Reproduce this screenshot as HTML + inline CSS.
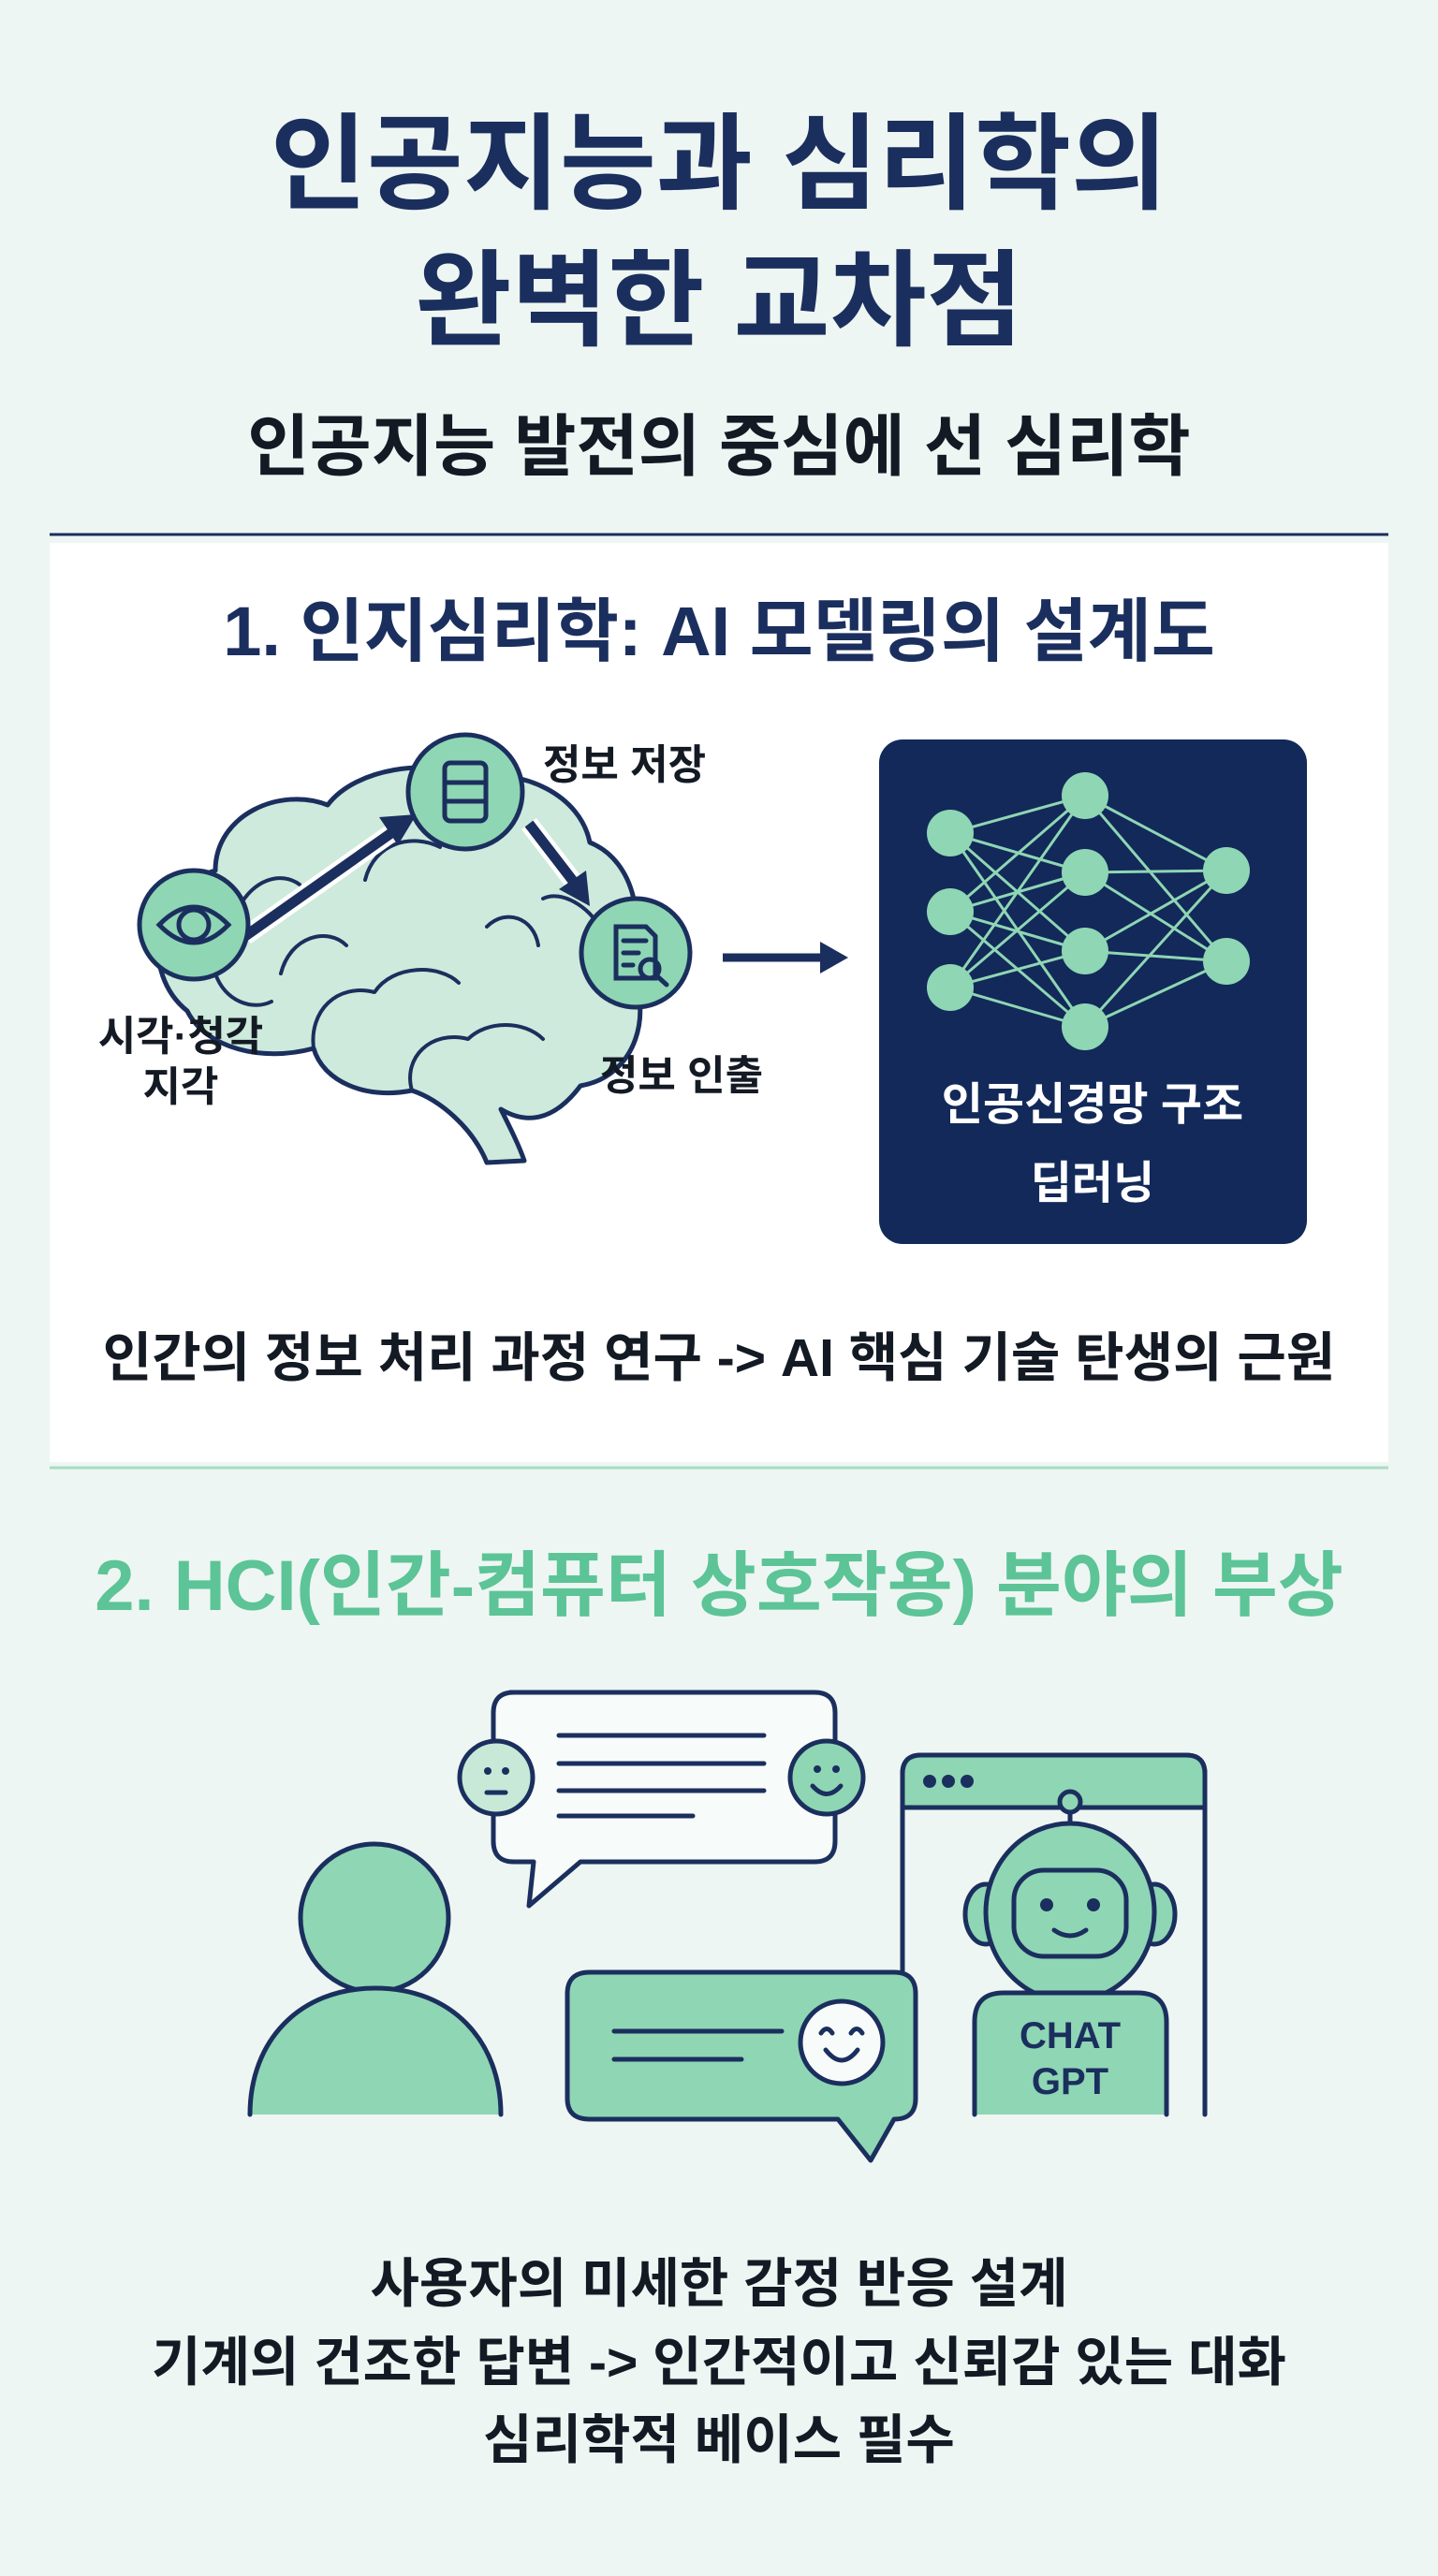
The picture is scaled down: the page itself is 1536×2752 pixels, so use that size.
<!DOCTYPE html>
<html><head><meta charset="utf-8"><style>
html,body{margin:0;padding:0;background:#eef6f3}
svg{display:block}
text{font-family:"Liberation Sans","Noto Sans CJK KR",sans-serif;font-weight:bold}
</style></head><body>
<svg width="1536" height="2752" viewBox="0 0 1536 2752" xmlns="http://www.w3.org/2000/svg">
<rect width="1536" height="2752" fill="#eef6f3"/>
<text x="768" y="214" font-size="112" fill="#1b2f5e" text-anchor="middle">인공지능과 심리학의</text>
<text x="768" y="360" font-size="112" fill="#1b2f5e" text-anchor="middle">완벽한 교차점</text>
<text x="768" y="502" font-size="72" fill="#141a24" text-anchor="middle">인공지능 발전의 중심에 선 심리학</text>
<line x1="53" y1="571" x2="1483" y2="571" stroke="#1b2f5e" stroke-width="3"/>
<rect x="53" y="580" width="1430" height="982" fill="#ffffff"/>
<text x="768" y="700" font-size="74" fill="#1b2f5e" text-anchor="middle">1. 인지심리학: AI 모델링의 설계도</text>

<!-- brain -->
<g stroke="#1b2f5e" stroke-width="5" fill="#cdeadc" stroke-linejoin="round" stroke-linecap="round">
<path d="M200,1080 C150,1040 160,950 230,930 C230,870 300,840 350,860 C380,820 460,810 500,830 C560,820 620,850 630,900 C680,920 690,990 670,1030 C700,1080 680,1150 620,1160 C590,1200 560,1200 535,1185 C545,1205 555,1225 560,1240 L520,1242 C505,1205 470,1175 440,1165 C390,1175 345,1155 335,1120 C280,1135 220,1120 200,1080 Z"/>
<g fill="none" stroke-width="4">
<path d="M255,970 C270,940 300,930 320,945"/>
<path d="M300,1040 C310,1000 350,990 370,1010"/>
<path d="M390,940 C400,900 440,890 470,905"/>
<path d="M335,1120 C330,1080 360,1050 400,1060 C420,1030 470,1030 490,1050"/>
<path d="M440,1165 C430,1130 460,1100 500,1110 C520,1090 560,1090 580,1110"/>
<path d="M580,960 C600,950 630,970 640,990"/>
<path d="M520,990 C540,970 570,980 575,1010"/>
<path d="M230,1040 C240,1070 270,1080 290,1070"/>
</g>
</g>
<!-- arrows -->
<g stroke-linecap="butt">
<line x1="262" y1="1000" x2="425" y2="885" stroke="#fff" stroke-width="20"/>
<line x1="262" y1="1000" x2="425" y2="885" stroke="#1b2f5e" stroke-width="11"/>
<polygon points="445,870 405,873 425,903" fill="#1b2f5e"/>
<line x1="565" y1="880" x2="615" y2="945" stroke="#fff" stroke-width="20"/>
<line x1="565" y1="880" x2="615" y2="945" stroke="#1b2f5e" stroke-width="11"/>
<polygon points="630,968 597,950 626,930" fill="#1b2f5e"/>
<line x1="772" y1="1023" x2="880" y2="1023" stroke="#1b2f5e" stroke-width="9"/>
<polygon points="906,1023 876,1006 876,1040" fill="#1b2f5e"/>
</g>
<!-- circles -->
<g stroke="#1b2f5e" stroke-width="5" fill="#8fd6b4">
<circle cx="207" cy="988" r="58"/>
<circle cx="497" cy="846" r="61"/>
<circle cx="679" cy="1018" r="58"/>
</g>
<g stroke="#1b2f5e" stroke-width="5" fill="none" stroke-linecap="round">
<path d="M170,988 Q207,950 244,988 Q207,1026 170,988 Z"/>
<circle cx="207" cy="988" r="16"/>
<rect x="475" y="815" width="44" height="62" rx="6"/>
<line x1="475" y1="836" x2="519" y2="836"/><line x1="475" y1="856" x2="519" y2="856"/>
<path d="M658,990 L690,990 L700,1000 L700,1045 L658,1045 Z"/>
<line x1="666" y1="1005" x2="690" y2="1005"/><line x1="666" y1="1018" x2="682" y2="1018"/><line x1="666" y1="1031" x2="676" y2="1031"/>
<circle cx="694" cy="1035" r="10"/><line x1="701" y1="1042" x2="712" y2="1052"/>
</g>
<text x="667" y="832" font-size="44" fill="#141a24" text-anchor="middle">정보 저장</text>
<text x="728" y="1164" font-size="44" fill="#141a24" text-anchor="middle">정보 인출</text>
<text x="193" y="1122" font-size="44" fill="#141a24" text-anchor="middle">시각·청각</text>
<text x="193" y="1176" font-size="44" fill="#141a24" text-anchor="middle">지각</text>

<!-- network -->
<rect x="939" y="790" width="457" height="539" rx="25" fill="#12295a"/>
<g stroke="#8fd6b4" stroke-width="3">
<path d="M1015,890 L1159,850 M1015,890 L1159,932 M1015,890 L1159,1016 M1015,890 L1159,1097
M1015,974 L1159,850 M1015,974 L1159,932 M1015,974 L1159,1016 M1015,974 L1159,1097
M1015,1055 L1159,850 M1015,1055 L1159,932 M1015,1055 L1159,1016 M1015,1055 L1159,1097
M1159,850 L1310,930 M1159,850 L1310,1027 M1159,932 L1310,930 M1159,932 L1310,1027
M1159,1016 L1310,930 M1159,1016 L1310,1027 M1159,1097 L1310,930 M1159,1097 L1310,1027"/>
</g>
<g fill="#8fd6b4">
<circle cx="1015" cy="890" r="25"/><circle cx="1015" cy="974" r="25"/><circle cx="1015" cy="1055" r="25"/>
<circle cx="1159" cy="850" r="25"/><circle cx="1159" cy="932" r="25"/><circle cx="1159" cy="1016" r="25"/><circle cx="1159" cy="1097" r="25"/>
<circle cx="1310" cy="930" r="25"/><circle cx="1310" cy="1027" r="25"/>
</g>
<text x="1167" y="1196" font-size="48" fill="#ffffff" text-anchor="middle" font-weight="normal">인공신경망 구조</text>
<text x="1167" y="1280" font-size="48" fill="#ffffff" text-anchor="middle" font-weight="normal">딥러닝</text>

<text x="768" y="1470" font-size="57" fill="#141a24" text-anchor="middle">인간의 정보 처리 과정 연구 -&gt; AI 핵심 기술 탄생의 근원</text>
<line x1="53" y1="1568" x2="1483" y2="1568" stroke="#a8dcc4" stroke-width="3"/>
<text x="768" y="1720" font-size="76" fill="#5cc497" text-anchor="middle">2. HCI(인간-컴퓨터 상호작용) 분야의 부상</text>

<!-- HCI illustration -->
<g stroke="#1b2f5e" stroke-width="5" stroke-linejoin="round" stroke-linecap="round">
<circle cx="400" cy="2049" r="79" fill="#8fd6b4"/>
<path d="M267,2259 C267,2180 320,2124 401,2124 C482,2124 535,2180 535,2259" fill="#8fd6b4"/>
<path d="M545,1808 L870,1808 Q892,1808 892,1830 L892,1967 Q892,1989 870,1989 L620,1989 L565,2036 L570,1989 L549,1989 Q527,1989 527,1967 L527,1830 Q527,1808 549,1808 Z" fill="#f7fbf9"/>
<circle cx="530" cy="1899" r="39" fill="#c8e8d8"/>
<circle cx="883" cy="1899" r="39" fill="#8fd6b4"/>
<path d="M964,2259 L964,1895 Q964,1875 984,1875 L1267,1875 Q1287,1875 1287,1895 L1287,2259" fill="none"/>
<path d="M964,1931 L964,1895 Q964,1875 984,1875 L1267,1875 Q1287,1875 1287,1895 L1287,1931 Z" fill="#8fd6b4"/>
<line x1="1143" y1="1948" x2="1143" y2="1935"/>
<circle cx="1143" cy="1925" r="11" fill="#8fd6b4"/>
<rect x="1120" y="2110" width="46" height="25" fill="#8fd6b4"/>
<ellipse cx="1053" cy="2045" rx="22" ry="32" fill="#8fd6b4"/><ellipse cx="1233" cy="2045" rx="22" ry="32" fill="#8fd6b4"/>
<ellipse cx="1143" cy="2043" rx="90" ry="95" fill="#8fd6b4"/>
<rect x="1083" y="1998" width="120" height="92" rx="32" fill="#8fd6b4"/>
<path d="M1041,2259 L1041,2160 Q1041,2129 1072,2129 L1215,2129 Q1246,2129 1246,2160 L1246,2259" fill="#8fd6b4"/>
<path d="M630,2107 L955,2107 Q978,2107 978,2130 L978,2242 Q978,2264 955,2264 L955,2264 L930,2308 L895,2264 L630,2264 Q606,2264 606,2242 L606,2130 Q606,2107 630,2107 Z" fill="#8fd6b4"/>
<circle cx="899" cy="2182" r="44" fill="#f7fbf9"/>
</g>
<g stroke="#1b2f5e" stroke-width="5" fill="none" stroke-linecap="round">
<line x1="597" y1="1854" x2="816" y2="1854"/><line x1="597" y1="1884" x2="816" y2="1884"/>
<line x1="597" y1="1913" x2="816" y2="1913"/><line x1="597" y1="1940" x2="740" y2="1940"/>
<line x1="520" y1="1915" x2="540" y2="1915"/>
<path d="M868,1908 Q883,1925 898,1908"/>
<path d="M1126,2062 Q1143,2074 1160,2062"/>
<line x1="656" y1="2170" x2="835" y2="2170"/><line x1="656" y1="2200" x2="792" y2="2200"/>
<path d="M877,2172 Q883,2163 889,2172"/><path d="M909,2172 Q915,2163 921,2172"/>
<path d="M882,2190 Q899,2212 916,2190"/>
</g>
<g fill="#1b2f5e">
<circle cx="521" cy="1892" r="4"/><circle cx="540" cy="1892" r="4"/>
<circle cx="873" cy="1890" r="4"/><circle cx="893" cy="1890" r="4"/>
<circle cx="993" cy="1903" r="7"/><circle cx="1013" cy="1903" r="7"/><circle cx="1033" cy="1903" r="7"/>
<circle cx="1118" cy="2035" r="7"/><circle cx="1168" cy="2035" r="7"/>
</g>
<text x="1143" y="2188" font-size="40" fill="#1b2f5e" text-anchor="middle">CHAT</text>
<text x="1143" y="2237" font-size="40" fill="#1b2f5e" text-anchor="middle">GPT</text>

<text x="768" y="2459" font-size="57" fill="#141a24" text-anchor="middle">사용자의 미세한 감정 반응 설계</text>
<text x="768" y="2543" font-size="57" fill="#141a24" text-anchor="middle">기계의 건조한 답변 -&gt; 인간적이고 신뢰감 있는 대화</text>
<text x="768" y="2626" font-size="57" fill="#141a24" text-anchor="middle">심리학적 베이스 필수</text>
</svg>
</body></html>
